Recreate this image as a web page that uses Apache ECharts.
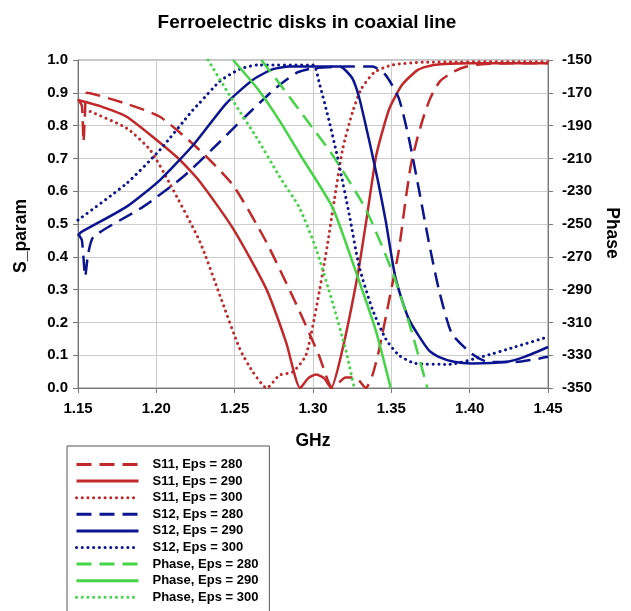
<!DOCTYPE html>
<html>
<head>
<meta charset="utf-8">
<script src="https://cdn.jsdelivr.net/npm/echarts@6/dist/echarts.min.js"></script>
<style>
html,body{margin:0;padding:0;background:#fff;}
#chart{width:631px;height:611px;}
</style>
</head>
<body>
<div id="chart"></div>
<script>
// ---- data (GHz, value) ----
const seriesNames = ['S11, Eps = 280','S11, Eps = 290','S11, Eps = 300','S12, Eps = 280','S12, Eps = 290','S12, Eps = 300','Phase, Eps = 280','Phase, Eps = 290','Phase, Eps = 300'];

const s11_eps280 = [[1.150,0.88],[1.1525,0.86],[1.1535,0.75],[1.1545,0.84],[1.1557,0.90],[1.18,0.868],[1.2023,0.827],[1.2277,0.725],[1.249,0.618],[1.2701,0.446],[1.2913,0.235],[1.304,0.097],[1.3125,0.0],[1.3209,0.032],[1.3273,0.032],[1.3337,0.0],[1.338,0.04],[1.3421,0.115],[1.3485,0.265],[1.3548,0.42],[1.359,0.57],[1.3625,0.68],[1.3665,0.76],[1.3708,0.83],[1.375,0.885],[1.381,0.935],[1.39,0.965],[1.398,0.98],[1.41,0.988],[1.43,0.99],[1.45,0.99]];
const s11_eps290 = [[1.150,0.878],[1.165,0.858],[1.1811,0.827],[1.2129,0.705],[1.2278,0.629],[1.249,0.486],[1.2701,0.303],[1.2828,0.14],[1.2918,0.0],[1.297,0.03],[1.3019,0.041],[1.307,0.03],[1.3115,0.0],[1.3187,0.115],[1.3283,0.339],[1.3337,0.50],[1.34,0.70],[1.3433,0.765],[1.349,0.855],[1.357,0.925],[1.367,0.97],[1.377,0.985],[1.40,0.99],[1.45,0.99]];
const s11_eps300 = [[1.1578,0.843],[1.1811,0.792],[1.196,0.726],[1.2085,0.624],[1.2278,0.446],[1.2405,0.283],[1.2532,0.12],[1.2616,0.049],[1.2705,0.0],[1.2786,0.039],[1.2871,0.049],[1.2955,0.10],[1.3025,0.255],[1.309,0.43],[1.3135,0.57],[1.319,0.73],[1.3253,0.842],[1.3306,0.91],[1.339,0.962],[1.3506,0.985],[1.37,0.993],[1.45,0.995]];

const s12_eps280 = [[1.150,0.47],[1.1525,0.45],[1.1546,0.34],[1.1565,0.41],[1.1599,0.461],[1.1917,0.553],[1.2171,0.644],[1.2404,0.75],[1.2595,0.84],[1.2764,0.915],[1.29,0.962],[1.30,0.975],[1.32,0.98],[1.338,0.98],[1.3464,0.954],[1.3548,0.883],[1.3612,0.761],[1.3675,0.608],[1.3739,0.446],[1.3802,0.303],[1.3886,0.166],[1.4013,0.105],[1.412,0.079],[1.429,0.079],[1.45,0.095]];
const s12_eps290 = [[1.150,0.465],[1.152,0.475],[1.1811,0.553],[1.2023,0.634],[1.2234,0.74],[1.2447,0.868],[1.2617,0.94],[1.2744,0.972],[1.285,0.98],[1.317,0.98],[1.325,0.945],[1.3295,0.885],[1.3337,0.80],[1.337,0.73],[1.3415,0.63],[1.3464,0.51],[1.3527,0.335],[1.3612,0.21],[1.3739,0.115],[1.3802,0.095],[1.39,0.08],[1.4013,0.075],[1.4225,0.079],[1.435,0.095],[1.45,0.125]];
const s12_eps300 = [[1.150,0.512],[1.1811,0.624],[1.2023,0.726],[1.2234,0.848],[1.2278,0.87],[1.2405,0.935],[1.2532,0.972],[1.265,0.985],[1.30,0.985],[1.304,0.93],[1.3104,0.812],[1.3146,0.726],[1.3167,0.68],[1.3231,0.53],[1.3295,0.37],[1.3379,0.24],[1.3464,0.15],[1.3548,0.10],[1.3654,0.075],[1.3865,0.072],[1.4077,0.095],[1.4289,0.125],[1.45,0.156]];

const phase_eps280 = [[1.267,-150],[1.2807,-167],[1.2955,-186],[1.3125,-208],[1.3337,-241],[1.3506,-279],[1.3622,-313],[1.373,-350]];
const phase_eps290 = [[1.249,-150],[1.265,-168],[1.2786,-187],[1.2913,-207],[1.3125,-240],[1.3284,-282],[1.3401,-315],[1.3496,-350]];
const phase_eps300 = [[1.233,-150],[1.249,-175],[1.2638,-197],[1.2786,-221],[1.2913,-240],[1.3019,-265],[1.3125,-298],[1.321,-327],[1.3263,-350]];

// axis settings
const xTicks = {min:1.15, max:1.45, step:0.05};
const sTicks = {min:0, max:1, step:0.1};
const phaseTicks = {min:-350, max:-150, step:20};

const RED = '#c0282a', BLUE = '#0c1590', GREEN = '#45d445';
const DASH = [15, 8], DOT = [0.1, 5.6];
const FONT = '"Liberation Sans", Arial, sans-serif';

function mk(name, data, color, type, yIdx) {
  const dotted = type === DOT;
  return {
    name: name, type: 'line', data: data, yAxisIndex: yIdx,
    symbol: 'none', showSymbol: false, smooth: 0.2, clip: true,
    lineStyle: {color: color, width: dotted ? 3 : 2.5, type: type, cap: dotted ? 'round' : 'butt'},
    itemStyle: {color: color},
    emphasis: {disabled: true}
  };
}

const chart = echarts.init(document.getElementById('chart'), null, {renderer: 'canvas'});
chart.setOption({
  animation: false,
  backgroundColor: '#fff',
  textStyle: {fontFamily: FONT},
  title: {
    text: 'Ferroelectric disks in coaxial line',
    left: 302, top: 8, textAlign: 'center',
    textStyle: {fontFamily: FONT, fontSize: 19, fontWeight: 'bold', color: '#000'}
  },
  grid: {left: 78, right: 83, top: 60, bottom: 223, show: true, borderColor: '#8a8a8a', borderWidth: 1, backgroundColor: '#fff'},
  legend: {
    orient: 'vertical', left: 67, top: 446, height: 190,
    padding: [12, 11, 12, 8],
    itemWidth: 62, itemHeight: 14, itemGap: 3.6,
    borderColor: '#555', borderWidth: 1, backgroundColor: '#fff',
    data: seriesNames,
    itemStyle: {color: 'rgba(0,0,0,0)', borderWidth: 0, borderColor: 'rgba(0,0,0,0)', opacity: 0},
    lineStyle: {width: 3},
    textStyle: {fontFamily: FONT, fontSize: 13, fontWeight: 'bold', color: '#000', padding: [0, 0, 0, 9]}
  },
  xAxis: {
    type: 'value', min: xTicks.min, max: xTicks.max, interval: xTicks.step,
    name: 'GHz', nameLocation: 'middle', nameGap: 44,
    nameTextStyle: {fontFamily: FONT, fontSize: 17.5, fontWeight: 'bold', color: '#000'},
    axisLine: {show: true, lineStyle: {color: '#777', width: 1}},
    axisTick: {show: true, inside: false, length: 5, lineStyle: {color: '#777'}},
    axisLabel: {margin: 13, fontFamily: FONT, fontSize: 15, fontWeight: 'bold', color: '#000', formatter: v => v.toFixed(2)},
    splitLine: {show: true, lineStyle: {color: '#cccccc', width: 1}}
  },
  yAxis: [{
    type: 'value', min: sTicks.min, max: sTicks.max, interval: sTicks.step, position: 'left',
    name: 'S_param', nameLocation: 'middle', nameGap: 48, nameRotate: 90,
    nameTextStyle: {fontFamily: FONT, fontSize: 17.5, fontWeight: 'bold', color: '#000', padding: [0, 24, 0, 0]},
    axisLine: {show: true, lineStyle: {color: '#777', width: 1}},
    axisTick: {show: true, inside: false, length: 5, lineStyle: {color: '#777'}},
    axisLabel: {margin: 10, fontFamily: FONT, fontSize: 15, fontWeight: 'bold', color: '#000', formatter: v => v.toFixed(1)},
    splitLine: {show: true, lineStyle: {color: '#cccccc', width: 1}}
  }, {
    type: 'value', min: phaseTicks.min, max: phaseTicks.max, interval: phaseTicks.step, position: 'right',
    name: 'Phase', nameLocation: 'middle', nameGap: 55, nameRotate: -90,
    nameTextStyle: {fontFamily: FONT, fontSize: 17.5, fontWeight: 'bold', color: '#000', padding: [0, 0, 0, 18]},
    axisLine: {show: true, lineStyle: {color: '#777', width: 1}},
    axisTick: {show: true, inside: false, length: 5, lineStyle: {color: '#777'}},
    axisLabel: {margin: 14, fontFamily: FONT, fontSize: 15, fontWeight: 'bold', color: '#000'},
    splitLine: {show: false}
  }],
  series: [
    mk(seriesNames[0], s11_eps280, RED, DASH, 0),
    mk(seriesNames[1], s11_eps290, RED, 'solid', 0),
    mk(seriesNames[2], s11_eps300, RED, DOT, 0),
    mk(seriesNames[3], s12_eps280, BLUE, DASH, 0),
    mk(seriesNames[4], s12_eps290, BLUE, 'solid', 0),
    mk(seriesNames[5], s12_eps300, BLUE, DOT, 0),
    mk(seriesNames[6], phase_eps280, GREEN, DASH, 1),
    mk(seriesNames[7], phase_eps290, GREEN, 'solid', 1),
    mk(seriesNames[8], phase_eps300, GREEN, DOT, 1)
  ]
});
</script>
</body>
</html>
